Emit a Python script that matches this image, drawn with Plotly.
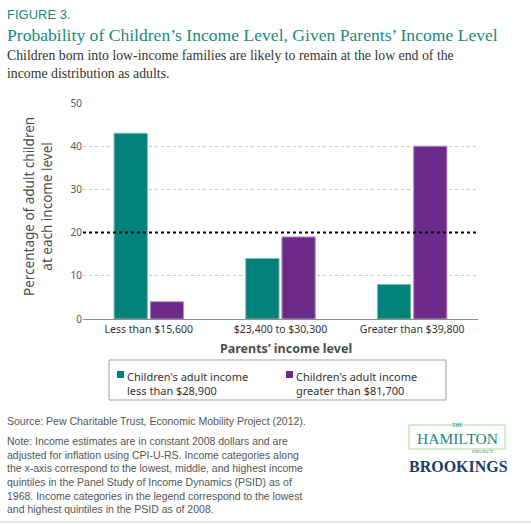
import plotly.graph_objects as go

# data
parent_income = ["Less than $15,600", "$23,400 to $30,300", "Greater than $39,800"]
low_child = [43, 14, 8]
high_child = [4, 19, 40]
series_names = ["Children's adult income<br>less than $28,900",
                "Children's adult income<br>greater than $81,700"]
y_ticks = [0, 10, 20, 30, 40, 50]

W, H = 531, 524
L, R, T, B = 83, 53, 103, 205
pw, ph = W - L - R, H - T - B


# pixel -> paper helpers for the page furniture
def px(x):
    return (x - L) / pw


def py(y):
    return (H - B - y) / ph


teal = "#00827a"
purple = "#6c2b8a"
colors = [teal, purple]
serif = "Liberation Serif, Times New Roman, serif"
sans = "Noto Sans, Open Sans, sans-serif"
arial = "Liberation Sans, Arial, sans-serif"

fig = go.Figure()
fig.add_trace(go.Bar(x=parent_income, y=low_child, name=series_names[0],
                     marker=dict(color=teal, line=dict(color="#7fbdb7", width=1))))
fig.add_trace(go.Bar(x=parent_income, y=high_child, name=series_names[1],
                     marker=dict(color=purple, line=dict(color="#b394c4", width=1))))

fig.update_layout(
    width=W, height=H,
    margin=dict(l=L, r=R, t=T, b=B, autoexpand=False),
    paper_bgcolor="white", plot_bgcolor="white",
    barmode="group", bargap=0.45, bargroupgap=0.08,
    font=dict(family=sans, color="#333"),
    showlegend=False,
)

fig.update_yaxes(range=[0, 50], tickvals=y_ticks, showgrid=True, gridcolor="#c8c8c8",
                 griddash="3px,3px", gridwidth=1, zeroline=False, showline=False,
                 tickfont=dict(size=10, color="#555"), ticks="", fixedrange=True)
fig.update_xaxes(showline=True, linecolor="#8c8c8c", linewidth=1, ticks="",
                 tickfont=dict(size=10.5, color="#333"), fixedrange=True)

# 20% reference line
fig.add_shape(type="line", xref="paper", yref="y", x0=0, x1=1, y0=20, y1=20,
              line=dict(color="black", width=2, dash="dot"))

ann = []
ann.append(dict(text="FIGURE 3.", x=px(5), y=py(14), xanchor="left", yanchor="middle",
                font=dict(family=arial, size=13, color="#1a8a80")))
ann.append(dict(text="Probability of Children’s Income Level, Given Parents’ Income Level",
                x=px(5), y=py(35), xanchor="left", yanchor="middle",
                font=dict(family=serif, size=17.6, color="#1a8a80")))
ann.append(dict(text="Children born into low-income families are likely to remain at the low end of the<br>income distribution as adults.",
                x=px(5), y=py(46), xanchor="left", yanchor="top", align="left",
                font=dict(family=serif, size=13.8, color="#333")))
ann.append(dict(text="Percentage of adult children<br>at each income level", textangle=-90,
                x=px(38), y=py(207), xanchor="center", yanchor="middle",
                font=dict(family=sans, size=13.5, color="#4d4d4d")))
ann.append(dict(text="<b>Parents’ income level</b>", x=px(286), y=py(348),
                xanchor="center", yanchor="middle",
                font=dict(family=sans, size=12.5, color="#4d4d4d")))

# legend: boxed, two entries side by side
fig.add_shape(type="rect", xref="paper", yref="paper", x0=px(109), x1=px(446),
              y0=py(360), y1=py(400), line=dict(color="#a0a0a0", width=1))
for name, col, sx in zip(series_names, colors, [117, 286]):
    fig.add_shape(type="rect", xref="paper", yref="paper", x0=px(sx), x1=px(sx + 7),
                  y0=py(371), y1=py(378), fillcolor=col, line=dict(width=0))
    ann.append(dict(text=name, x=px(sx + 8), y=py(367), xanchor="left", yanchor="top",
                    align="left", font=dict(family=sans, size=11, color="#333")))

ann.append(dict(text="Source: Pew Charitable Trust, Economic Mobility Project (2012).",
                x=px(5), y=py(421), xanchor="left", yanchor="middle",
                font=dict(family=arial, size=10.5, color="#555")))
ann.append(dict(text="Note: Income estimates are in constant 2008 dollars and are<br>"
                     "adjusted for inflation using CPI-U-RS. Income categories along<br>"
                     "the x-axis correspond to the lowest, middle, and highest income<br>"
                     "quintiles in the Panel Study of Income Dynamics (PSID) as of<br>"
                     "1968. Income categories in the legend correspond to the lowest<br>"
                     "and highest quintiles in the PSID as of 2008.",
                x=px(5), y=py(433), xanchor="left", yanchor="top", align="left",
                font=dict(family=arial, size=10.5, color="#555")))
# logo
ann.append(dict(text="THE", x=px(457), y=py(424.5), xanchor="center", yanchor="middle",
                borderpad=0, font=dict(family=serif, size=5.5, color="#1a8a80")))
ann.append(dict(text="HAMILTON", x=px(457), y=py(438), xanchor="center", yanchor="middle",
                borderpad=0, font=dict(family=serif, size=15.5, color="#1a8a80")))
ann.append(dict(text="PROJECT", x=px(482), y=py(451), xanchor="center", yanchor="middle",
                borderpad=0, font=dict(family=serif, size=5, color="#1a8a80")))
ann.append(dict(text="<b>BROOKINGS</b>", x=px(458), y=py(466), xanchor="center", yanchor="middle",
                font=dict(family=serif, size=16, color="#1f3a6e")))
for a in ann:
    a.update(xref="paper", yref="paper", showarrow=False)
fig.update_layout(annotations=ann)

fig.add_shape(type="rect", xref="paper", yref="paper", x0=px(409), x1=px(505),
              y0=py(425), y1=py(449), line=dict(color="#c9e3b8", width=1.5))
fig.add_shape(type="line", xref="paper", yref="paper", x0=px(0), x1=px(531),
              y0=py(522), y1=py(522), line=dict(color="#e6e6e6", width=2))

# drop the browser's default body margin so the figure sits at the window corner
fig.write_html("out.html", config={"displayModeBar": False},
               post_script="document.body.style.margin='0';")
